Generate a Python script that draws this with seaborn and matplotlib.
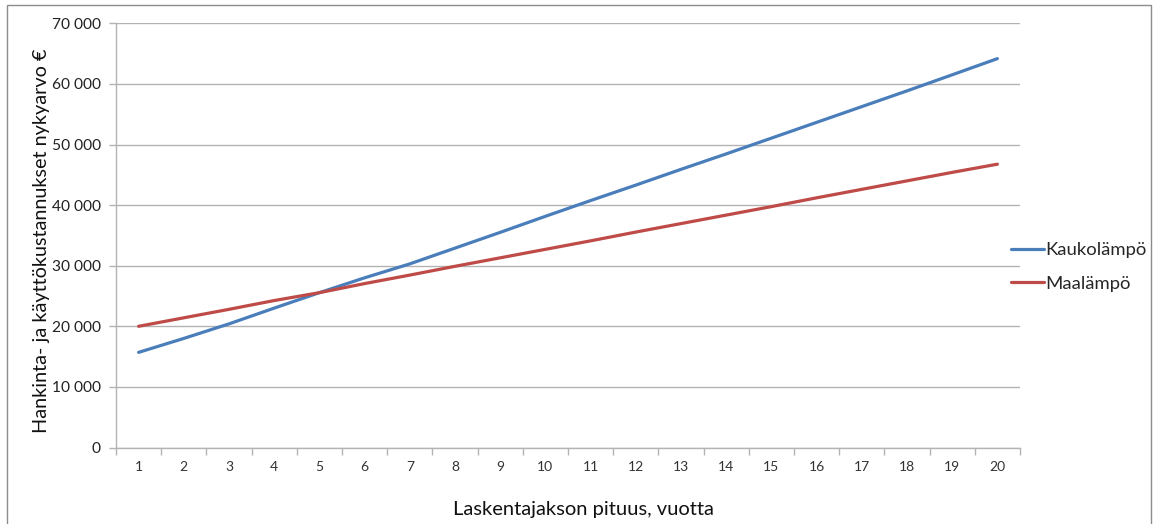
import matplotlib
matplotlib.use("Agg")
import matplotlib.pyplot as plt
import matplotlib.ticker as mticker
from matplotlib.patches import Rectangle
import pandas as pd
import seaborn as sns

# Calculation period (years)
years = list(range(1, 21))
# Present value of acquisition and operating costs, €
kaukolampo = [15700, 18000, 20400, 23000, 25550, 28000, 30300, 32900, 35500, 38150,
              40750, 43300, 45900, 48450, 51050, 53650, 56250, 58850, 61500, 64170]
maalampo = [20000, 21400, 22800, 24250, 25550, 27050, 28450, 29900, 31300, 32700,
            34100, 35550, 36950, 38350, 39750, 41200, 42600, 44000, 45400, 46750]
series_names = ["Kaukolämpö", "Maalämpö"]
y_ticks = [0, 10000, 20000, 30000, 40000, 50000, 60000, 70000]

df = pd.DataFrame({
    "vuosi": years * 2,
    "arvo": kaukolampo + maalampo,
    "lampo": [series_names[0]] * len(years) + [series_names[1]] * len(years),
})

sns.set_theme(style="white")
plt.rcParams["font.family"] = ["Lato", "DejaVu Sans"]

W, H = 1156, 524
fig = plt.figure(figsize=(W / 100, H / 100), dpi=100)
ax = fig.add_axes([116 / W, 1 - 447.5 / H, (1020 - 116) / W, (447.5 - 23.3) / H])

palette = {series_names[0]: "#4a7ebb", series_names[1]: "#be4b48"}
sns.lineplot(data=df, x="vuosi", y="arvo", hue="lampo", palette=palette,
             linewidth=2.3, ax=ax, legend=True)

ax.set_xlim(0.5, 20.5)
ax.set_ylim(0, 70000)
ax.set_yticks(y_ticks)
ax.yaxis.set_major_formatter(mticker.FuncFormatter(
    lambda v, p: f"{int(v):,}".replace(",", " ")))
ax.set_xticks(years)
ax.set_xticks([x + 0.5 for x in range(0, 21)], minor=True)

grid_c = "#b3b3b3"
ax.grid(axis="y", color=grid_c, linewidth=1.0)
ax.grid(axis="x", visible=False)
ax.set_axisbelow(True)
for s in ["top", "right"]:
    ax.spines[s].set_visible(False)
for s in ["left", "bottom"]:
    ax.spines[s].set_color(grid_c)
    ax.spines[s].set_linewidth(1.0)

ax.tick_params(axis="y", which="major", length=5, width=1, color=grid_c,
               labelsize=11.2, pad=6, left=True, labelcolor="#222222")
ax.tick_params(axis="x", which="major", length=0, labelsize=10, pad=10,
               labelcolor="#333333")
ax.tick_params(axis="x", which="minor", length=5, width=1, color=grid_c,
               bottom=True, direction="out")

ax.set_xlabel("Laskentajakson pituus, vuotta", fontsize=14.5, color="#111111")
ax.xaxis.set_label_coords(0.5166, -0.126)
ax.set_ylabel("Hankinta- ja käyttökustannukset nykyarvo €", fontsize=14.3,
              color="#111111")
ax.yaxis.set_label_coords(-0.073, 0.487)

leg = ax.legend(title=None, loc="center left", frameon=False,
                bbox_to_anchor=(1004 / W, 1 - 267 / H), bbox_transform=fig.transFigure,
                fontsize=13.3, handlelength=1.75, handletextpad=0.1,
                labelspacing=0.95, borderaxespad=0)
for line in leg.get_lines():
    line.set_linewidth(2.3)

# outer chart border
fig.patches.append(Rectangle((7 / W, -0.01), (1151 - 7) / W, 1 - 5 / H + 0.01,
                             transform=fig.transFigure, fill=False,
                             edgecolor="#8c8c8c", linewidth=1.0))

fig.savefig("out.png", dpi=100)
